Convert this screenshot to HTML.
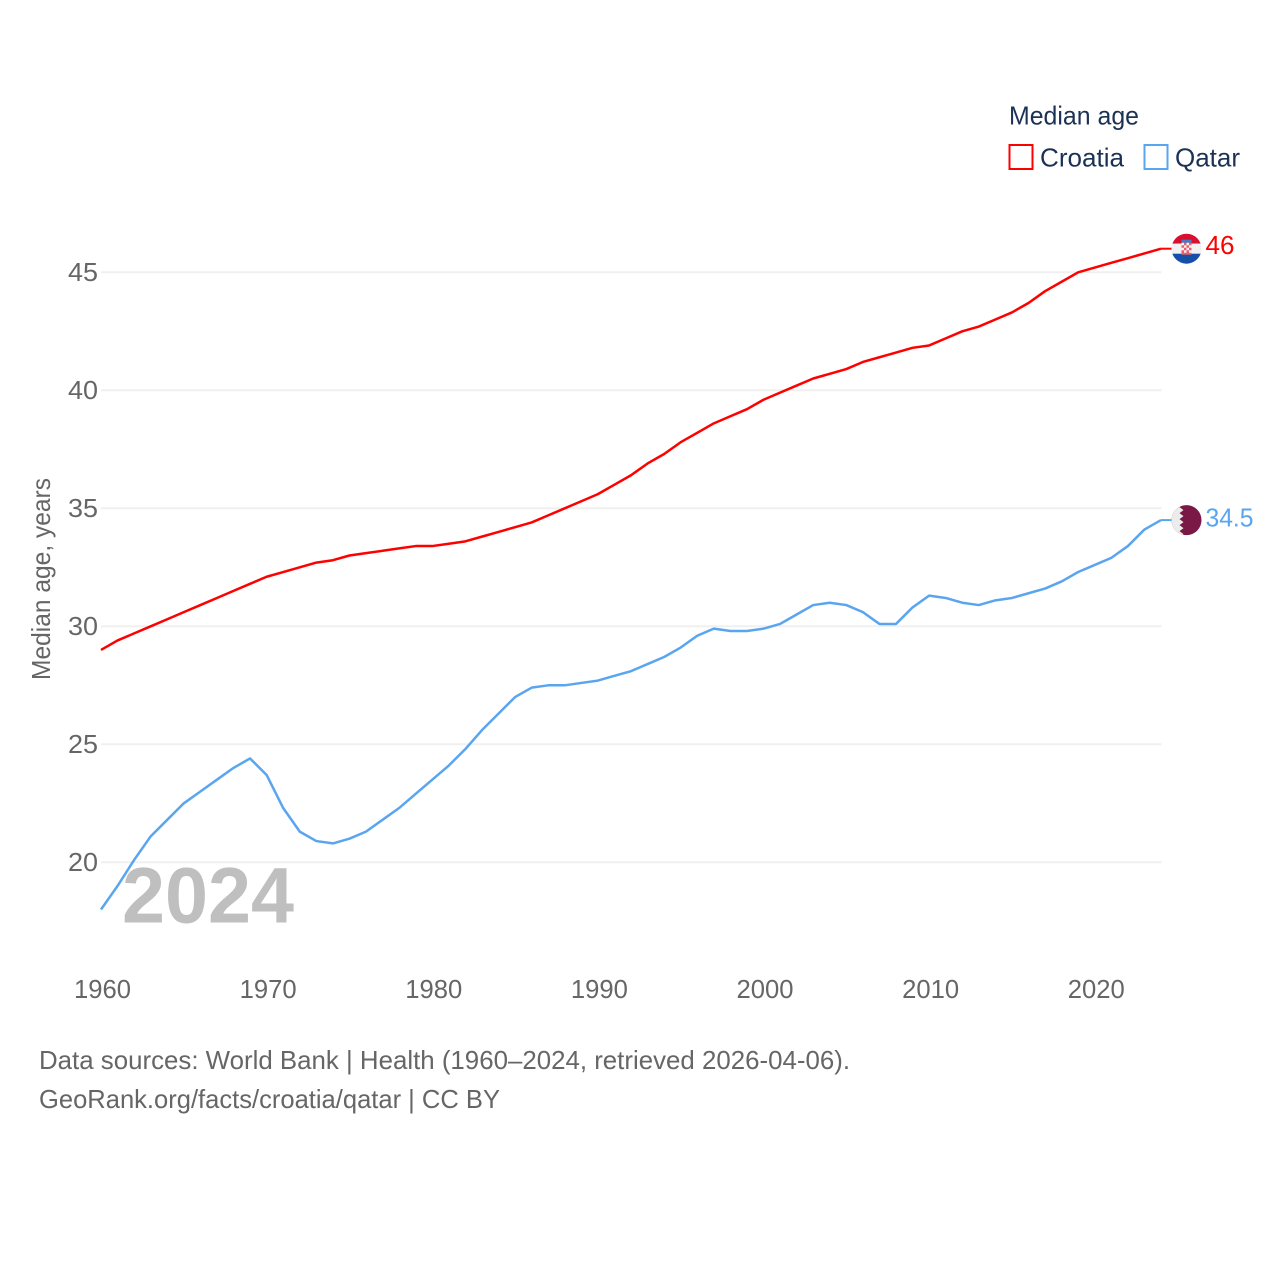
<!DOCTYPE html>
<html lang="en">
<head>
<meta charset="utf-8">
<title>Median age: Croatia and Qatar</title>
<style>
html,body{margin:0;padding:0;background:#fff;width:1280px;height:1280px;overflow:hidden}
svg{display:block}
text{font-family:"Liberation Sans",sans-serif}
</style>
</head>
<body>
<svg id="chart" xmlns="http://www.w3.org/2000/svg" width="1280" height="1280" viewBox="0 0 1280 1280">
  <defs>
    <clipPath id="flag-clip"><circle cx="0" cy="0" r="15"/></clipPath>
  </defs>
  <rect x="0" y="0" width="1280" height="1280" fill="#fff"/>
  <g id="grid"></g>
  <g id="yticks"></g>
  <g id="xticks"></g>
  <text transform="translate(50,680) rotate(-90)" font-size="26" fill="#666" textLength="202" lengthAdjust="spacingAndGlyphs">Median age, years</text>
  <g id="series"></g>

  <text x="122" y="922.500" font-size="79" font-weight="700" fill="#bfbfbf" textLength="172" lengthAdjust="spacingAndGlyphs">2024</text>

  <g id="flag-croatia">
    <g clip-path="url(#flag-clip)">
      <rect x="-16" y="-16" width="32" height="11" fill="#d8102f"/>
      <rect x="-16" y="-5" width="32" height="11" fill="#f1f1f1"/>
      <rect x="-16" y="5" width="32" height="11" fill="#1450a8"/>
      <path d="M-5,-9 h10 v3 h-10 z" fill="#3f7fc8"/>
      <rect x="-5" y="-6" width="10" height="12" fill="#e8606e"/>
      <path d="M-5,-6h2.500v2.500h-2.500zM0,-6h2.500v2.500h-2.500zM-2.500,-3.500h2.500v2.500h-2.500zM2.500,-3.500h2.500v2.500h-2.500zM-5,-1h2.500v2.500h-2.500zM0,-1h2.500v2.500h-2.500zM-2.500,1.500h2.500v2.500h-2.500zM2.500,1.500h2.500v2.500h-2.500z" fill="#f7f0f0"/>
    </g>
  </g>
  <g id="flag-qatar">
    <g clip-path="url(#flag-clip)">
      <rect x="-16" y="-16" width="32" height="32" fill="#7a1846"/>
      <path d="M-16,-16 H-3 L-7,-13 L-3,-10 L-7,-7 L-3,-4 L-7,-1 L-3,2 L-7,5 L-3,8 L-7,11 L-3,14 L-7,16 H-16 Z" fill="#ececec"/>
    </g>
  </g>
  <g id="endlabels"></g>

  <text x="1009" y="124.500" font-size="26" fill="#1c3255" textLength="130" lengthAdjust="spacingAndGlyphs">Median age</text>
  <rect x="1009.500" y="145" width="23" height="24" fill="#fff" stroke="#ff0000" stroke-width="2"/>
  <text x="1040" y="166.500" font-size="26" fill="#1c3255" textLength="84" lengthAdjust="spacingAndGlyphs">Croatia</text>
  <rect x="1144.500" y="145" width="23" height="24" fill="#fff" stroke="#5aa5ef" stroke-width="2"/>
  <text x="1175" y="166.500" font-size="26" fill="#1c3255" textLength="65" lengthAdjust="spacingAndGlyphs">Qatar</text>

  <text x="39" y="1069" font-size="26" fill="#666" textLength="811" lengthAdjust="spacingAndGlyphs">Data sources: World Bank | Health (1960–2024, retrieved 2026-04-06).</text>
  <text x="39" y="1108" font-size="26" fill="#666" textLength="461" lengthAdjust="spacingAndGlyphs">GeoRank.org/facts/croatia/qatar | CC BY</text>
</svg>
<script>
const years = [1960,1961,1962,1963,1964,1965,1966,1967,1968,1969,1970,1971,1972,1973,1974,1975,1976,1977,1978,1979,1980,1981,1982,1983,1984,1985,1986,1987,1988,1989,1990,1991,1992,1993,1994,1995,1996,1997,1998,1999,2000,2001,2002,2003,2004,2005,2006,2007,2008,2009,2010,2011,2012,2013,2014,2015,2016,2017,2018,2019,2020,2021,2022,2023,2024];
const croatia = [29.0,29.4,29.7,30.0,30.3,30.6,30.9,31.2,31.5,31.8,32.1,32.3,32.5,32.7,32.8,33.0,33.1,33.2,33.3,33.4,33.4,33.5,33.6,33.8,34.0,34.2,34.4,34.7,35.0,35.3,35.6,36.0,36.4,36.9,37.3,37.8,38.2,38.6,38.9,39.2,39.6,39.9,40.2,40.5,40.7,40.9,41.2,41.4,41.6,41.8,41.9,42.2,42.5,42.7,43.0,43.3,43.7,44.2,44.6,45.0,45.2,45.4,45.6,45.8,46.0];
const qatar = [18.0,19.0,20.1,21.1,21.8,22.5,23.0,23.5,24.0,24.4,23.7,22.3,21.3,20.9,20.8,21.0,21.3,21.8,22.3,22.9,23.5,24.1,24.8,25.6,26.3,27.0,27.4,27.5,27.5,27.6,27.7,27.9,28.1,28.4,28.7,29.1,29.6,29.9,29.8,29.8,29.9,30.1,30.5,30.9,31.0,30.9,30.6,30.1,30.1,30.8,31.3,31.2,31.0,30.9,31.1,31.2,31.4,31.6,31.9,32.3,32.6,32.9,33.4,34.1,34.5];
const yTickValues = [20,25,30,35,40,45];
const xTickValues = [1960,1970,1980,1990,2000,2010,2020];

const NS = 'http://www.w3.org/2000/svg';
function xScale(year){ return 101 + (year - 1960) * (1060 / 64); }
function yScale(v){ return 862.3 - (v - 20) * 23.6; }
function make(tag, attrs, parent){
  const el = document.createElementNS(NS, tag);
  for (const k in attrs) el.setAttribute(k, attrs[k]);
  parent.appendChild(el);
  return el;
}

const gridG = document.getElementById('grid');
const yG = document.getElementById('yticks');
yTickValues.forEach(function(v){
  const line = make('line', {x1:101, x2:1161.500, y1:yScale(v), y2:yScale(v), stroke:'#f0f0f0', 'stroke-width':2}, gridG);
  
  
  const t = make('text', {x:98, y:yScale(v)+8.700, 'font-size':26, fill:'#666', 'text-anchor':'end', textLength:30, lengthAdjust:'spacingAndGlyphs'}, yG);
  
  
  t.textContent = v;
});

const xG = document.getElementById('xticks');
xTickValues.forEach(function(yr){
  const t = make('text', {x:xScale(yr)+1.500, y:998, 'font-size':26, fill:'#666', 'text-anchor':'middle', textLength:57, lengthAdjust:'spacingAndGlyphs'}, xG);
  
  
  t.textContent = yr;
});

const seriesG = document.getElementById('series');
const labelG = document.getElementById('endlabels');
function drawSeries(key, values, color, labelOffset, labelWidth){
  const pts = values.map(function(v, i){ return xScale(years[i]).toFixed(2) + ',' + yScale(v).toFixed(2); });
  const last = values[values.length - 1];
  const lastY = yScale(last);
  const line = make('polyline', {points:pts.join(' '), fill:'none', stroke:color, 'stroke-width':2.500, 'stroke-linejoin':'round'}, seriesG);
  
  
  const conn = make('line', {x1:xScale(years[years.length-1]), x2:1172, y1:lastY, y2:lastY, stroke:color, 'stroke-width':2}, seriesG);
  
  
  document.getElementById('flag-' + key).setAttribute('transform', 'translate(1186.500,' + lastY + ')');
  const t = make('text', {x:1205.500, y:lastY + labelOffset, 'font-size':26, fill:color, textLength:labelWidth, lengthAdjust:'spacingAndGlyphs'}, labelG);
  
  
  t.textContent = last;
}
drawSeries('croatia', croatia, '#ff0000', 5.500, 29);
drawSeries('qatar', qatar, '#5aa5ef', 6.500, 48);
</script>
</body>
</html>
